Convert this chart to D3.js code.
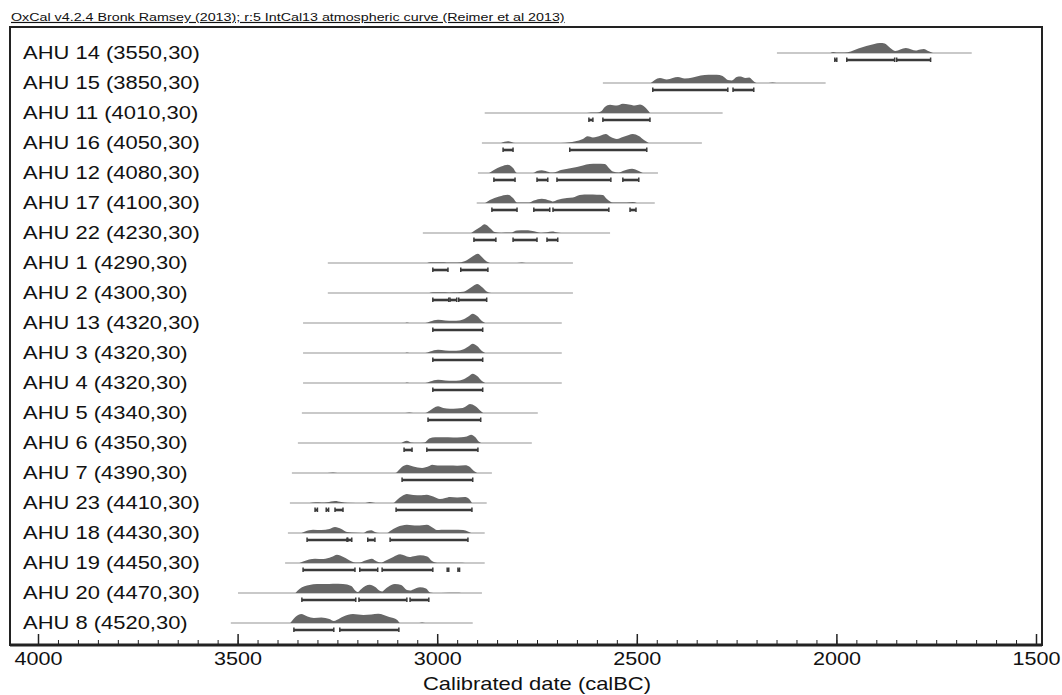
<!DOCTYPE html>
<html>
<head>
<meta charset="utf-8">
<script src="https://cdn.jsdelivr.net/npm/d3@7"></script>
<style>
  body { margin: 0; background: #fff; }
  text { font-family: "Liberation Sans", Arial, sans-serif; fill: #111; }
</style>
</head>
<body>
<svg id="chart"></svg>
<script>
// header and axis text
const header = 'OxCal v4.2.4 Bronk Ramsey (2013); r:5 IntCal13 atmospheric curve (Reimer et al 2013)'
const xTitle = 'Calibrated date (calBC)'
const majorTicks = [4000, 3500, 3000, 2500, 2000, 1500]

// samples, top to bottom
const labels = [
  'AHU 14 (3550,30)', 'AHU 15 (3850,30)', 'AHU 11 (4010,30)', 'AHU 16 (4050,30)',
  'AHU 12 (4080,30)', 'AHU 17 (4100,30)', 'AHU 22 (4230,30)', 'AHU 1 (4290,30)',
  'AHU 2 (4300,30)', 'AHU 13 (4320,30)', 'AHU 3 (4320,30)', 'AHU 4 (4320,30)',
  'AHU 5 (4340,30)', 'AHU 6 (4350,30)', 'AHU 7 (4390,30)', 'AHU 23 (4410,30)',
  'AHU 18 (4430,30)', 'AHU 19 (4450,30)', 'AHU 20 (4470,30)', 'AHU 8 (4520,30)'
]

// light grey line: full extent of each calibrated curve (calBC)
const spans = [
  [2149, 1661], [2585, 2027], [2881, 2285], [2888, 2337], [2898, 2447],
  [2901, 2455], [3036, 2567], [3274, 2660], [3274, 2660], [3336, 2688],
  [3336, 2688], [3336, 2688], [3339, 2748], [3349, 2763], [3364, 2863],
  [3369, 2876], [3374, 2881], [3381, 2881], [3499, 2888], [3517, 2911]
]

// probability distributions [year calBC, density]
const densities = [
  [[2015,0],[2008,1],[2000,0.5],[1980,0.5],[1964,1.5],[1945,4.5],[1925,7],[1905,9],[1891,10],[1879,9.5],[1865,5],[1852,2],[1840,3.5],[1826,5],[1812,3.5],[1801,2.5],[1790,3.5],[1781,4],[1770,2],[1758,0]],
  [[2465,0],[2455,3],[2442,5],[2425,3.5],[2410,5],[2397,6],[2380,4.5],[2360,5.5],[2340,7.5],[2320,8.3],[2300,8.3],[2285,7],[2272,3],[2262,2.5],[2250,6],[2240,6.5],[2228,5],[2218,5.5],[2208,2],[2200,0],[2170,0],[2160,0.6],[2150,0]],
  [[2625,0],[2615,0.6],[2600,0.5],[2590,1.5],[2580,6],[2567,8.3],[2550,7.5],[2535,9.3],[2520,8.5],[2505,7.5],[2492,8.5],[2480,6],[2467,0]],
  [[2840,0],[2823,1.7],[2805,0],[2690,0],[2668,0.8],[2645,2.5],[2635,4],[2623,6.7],[2610,5.5],[2600,6.3],[2590,7.5],[2578,9],[2565,6],[2550,4],[2535,6],[2520,8],[2510,9],[2495,7],[2482,3],[2470,0]],
  [[2870,0],[2858,3],[2840,6.5],[2823,8.3],[2810,5],[2800,0],[2760,0],[2750,2],[2738,2.7],[2725,1.5],[2715,0.5],[2705,0.8],[2690,3],[2670,4.5],[2650,6],[2635,7.5],[2618,9],[2600,9.2],[2580,9],[2570,5],[2560,1.5],[2545,0.5],[2535,2],[2512,4.3],[2495,2],[2485,0]],
  [[2880,0],[2868,3],[2845,6.5],[2823,8.3],[2810,5],[2800,0.5],[2770,0.5],[2758,2.5],[2738,4.3],[2718,2.5],[2710,1.5],[2700,3],[2675,5],[2660,5.5],[2643,8],[2620,8.5],[2600,8.3],[2585,8],[2575,4],[2560,0.5],[2525,0.5],[2510,1],[2500,0]],
  [[2915,0],[2906,2.5],[2892,6],[2881,8.7],[2868,5],[2856,1],[2840,0.3],[2815,0.5],[2800,2.5],[2780,2.7],[2765,2.3],[2750,1],[2740,0.3],[2725,0.8],[2712,1.5],[2698,0.5],[2690,0]],
  [[3025,0],[3018,0.7],[2990,0.8],[2976,0.6],[2960,0.4],[2940,0.8],[2923,3.5],[2910,7],[2898,9.3],[2888,6],[2876,1.5],[2865,0],[2800,0],[2788,0.5],[2778,0]],
  [[3020,0],[3011,0.7],[2990,0.7],[2970,0.6],[2950,0.7],[2935,1.2],[2923,3.5],[2910,7],[2900,9],[2888,6],[2876,1.5],[2865,0]],
  [[3080,0],[3076,0.5],[3070,0],[3030,0],[3018,1.5],[2998,3.3],[2980,2.5],[2960,2.3],[2945,2.5],[2930,4.5],[2920,7],[2911,9.3],[2900,7],[2888,2],[2880,0]],
  [[3080,0],[3076,0.5],[3070,0],[3030,0],[3018,1.5],[2998,3.2],[2980,2.5],[2960,2.3],[2945,2.5],[2930,4.5],[2920,7],[2911,9.2],[2900,7],[2888,2],[2880,0]],
  [[3080,0],[3076,0.5],[3070,0],[3030,0],[3018,1.5],[2998,3.2],[2980,2.5],[2960,2.3],[2945,2.5],[2930,4.5],[2920,7],[2911,9.2],[2900,7],[2888,2],[2880,0]],
  [[3080,0],[3070,0.5],[3060,0],[3030,0],[3020,2],[2998,6.7],[2985,5],[2968,4.3],[2950,4.5],[2936,5],[2925,7.5],[2918,9],[2905,7],[2891,2],[2885,0]],
  [[3090,0],[3076,2.3],[3065,0.5],[3050,0.3],[3032,0.5],[3020,4.5],[3005,5.7],[2985,5.7],[2960,5.5],[2940,5.7],[2926,6.5],[2915,8.3],[2905,6],[2896,1.5],[2890,0]],
  [[3275,0],[3261,0.5],[3250,0],[3105,0],[3096,3],[3085,7],[3076,8.3],[3060,6.5],[3038,5],[3020,7],[3013,8.3],[2995,7.5],[2970,7.5],[2950,7.3],[2930,7.8],[2918,6],[2908,2],[2900,0]],
  [[3320,0],[3304,0.7],[3290,0.5],[3276,0.8],[3256,2],[3240,1],[3225,0.3],[3180,0],[3169,1],[3155,0],[3110,0],[3101,3],[3088,7],[3076,9],[3060,8],[3040,7.8],[3026,8.3],[3010,6.5],[2993,4],[2980,5],[2968,6],[2950,5.5],[2931,6],[2920,4],[2913,0]],
  [[3340,0],[3331,1.5],[3311,3.3],[3290,3],[3270,4],[3256,6],[3240,4],[3226,1],[3215,0.5],[3185,0],[3176,2],[3165,2.7],[3156,1],[3145,0],[3125,0],[3118,2],[3100,6],[3076,8.3],[3050,7.5],[3026,8.3],[3010,5],[3001,3],[2990,3.3],[2960,3.3],[2935,3],[2923,1.5],[2915,0]],
  [[3345,0],[3336,1.5],[3306,4.3],[3285,4],[3265,6],[3251,8.3],[3235,6],[3214,1.5],[3205,0.5],[3195,0.5],[3180,2.5],[3164,4.3],[3151,1.5],[3140,0.5],[3131,2],[3110,6],[3093,8.7],[3070,6],[3055,7],[3043,7.7],[3025,6.5],[3013,2],[3000,0.3],[2970,0.3],[2945,0.3],[2930,0]],
  [[3355,0],[3345,4],[3320,8],[3301,9],[3280,9],[3261,9.3],[3236,9],[3215,7],[3204,2],[3199,1],[3190,4],[3180,7],[3169,8.3],[3155,6],[3143,2],[3138,1.5],[3130,4],[3115,8],[3106,9],[3090,8],[3076,3],[3068,2.5],[3060,3.5],[3043,5.7],[3028,4.5],[3018,0.5],[3010,0],[2970,0.3],[2950,0.3],[2940,0]],
  [[3368,0],[3360,4],[3341,9],[3325,6.5],[3309,5],[3290,5.5],[3270,4],[3259,2],[3252,3],[3235,6.5],[3211,9],[3185,8],[3165,8.5],[3148,9.3],[3120,6],[3100,3],[3093,0],[3045,0],[3038,0.6],[3030,0]]
]

// highest-probability ranges drawn as dark bars under each curve
const hpdRanges = [
  [[2004,1999],[1974,1854],[1849,1764]],
  [[2460,2272],[2259,2207]],
  [[2620,2610],[2585,2467]],
  [[2835,2810],[2668,2475]],
  [[2858,2805],[2750,2723],[2700,2565],[2535,2495]],
  [[2863,2800],[2758,2718],[2710,2570],[2517,2502]],
  [[2908,2853],[2810,2750],[2725,2698]],
  [[3011,2973],[2941,2873]],
  [[3011,2971],[2968,2951],[2946,2876]],
  [[3011,2886]],
  [[3011,2886]],
  [[3011,2886]],
  [[3023,2891]],
  [[3083,3063],[3026,2898]],
  [[3088,2911]],
  [[3306,3300],[3278,3272],[3256,3236],[3103,2913]],
  [[3326,3226],[3224,3214],[3174,3156],[3118,2923]],
  [[3336,3206],[3194,3149],[3138,3011],[2975,2971],[2948,2944]],
  [[3339,3204],[3196,3076],[3068,3021]],
  [[3359,3259],[3244,3096]]
]

const W = 1062, H = 695
const frame = { left: 10, right: 1042, top: 27, bottom: 645 }
const stretch = 1.22

const svg = d3.select('#chart').attr('width', W).attr('height', H)

const x = d3.scaleLinear().domain([4000, 1500]).range([38, 1036])
const y = d3.scalePoint().domain(labels).range([53, 623])
const h = d3.scaleLinear().domain([0, 10]).range([0, 10])

const area = d3.area()
  .x(d => x(d[0]))
  .y0(0)
  .y1(d => -h(d[1]))
  .curve(d3.curveMonotoneX)

// header
svg.append('text')
  .attr('transform', `translate(11,21) scale(${stretch},1)`)
  .attr('font-size', 11.7)
  .style('text-decoration', 'underline')
  .text(header)

// frame
svg.append('rect')
  .attr('x', frame.left).attr('y', frame.top)
  .attr('width', frame.right - frame.left).attr('height', frame.bottom - frame.top)
  .attr('fill', 'none').attr('stroke', '#222').attr('stroke-width', 2)

// rows
labels.forEach((lab, i) => {
  let g = svg.append('g').attr('transform', `translate(0,${y(lab)})`)

  g.append('text')
    .attr('transform', `translate(23,0) scale(${stretch},1)`)
    .attr('font-size', 18)
    .attr('dy', '0.36em')
    .text(lab)

  g.append('line')
    .attr('x1', x(spans[i][0])).attr('x2', x(spans[i][1]))
    .attr('stroke', '#c9c9c9').attr('stroke-width', 2)

  g.append('path')
    .datum(densities[i])
    .attr('d', area)
    .attr('fill', '#676767')

  let bars = g.selectAll('.bar').data(hpdRanges[i]).join('g').attr('class', 'bar')
  bars.append('line')
    .attr('x1', d => x(d[0])).attr('x2', d => x(d[1]))
    .attr('y1', 7).attr('y2', 7)
    .attr('stroke', '#3a3a3a').attr('stroke-width', 2.6)
  bars.selectAll('.cap').data(d => d).join('line').attr('class', 'cap')
    .attr('x1', d => x(d)).attr('x2', d => x(d))
    .attr('y1', 4.5).attr('y2', 9)
    .attr('stroke', '#3a3a3a').attr('stroke-width', 1.5)
})

// axis along the bottom of the frame, ticks pointing up
let minor = svg.append('g').attr('transform', `translate(0,${frame.bottom})`)
  .call(d3.axisBottom(x).tickValues(d3.range(4000, 1499, -50)).tickSize(-5).tickFormat(''))
minor.select('.domain').remove()
minor.selectAll('line').attr('stroke', '#222')

let axis = svg.append('g').attr('transform', `translate(0,${frame.bottom})`)
  .call(d3.axisBottom(x).tickValues(majorTicks).tickSizeInner(-11).tickSizeOuter(0).tickPadding(7).tickFormat(d3.format('d')))
axis.select('.domain').remove()
axis.selectAll('line').attr('stroke', '#222').attr('stroke-width', 1.5)
axis.selectAll('text')
  .attr('font-size', 18)
  .attr('font-family', '"Liberation Sans", Arial, sans-serif')
  .attr('transform', 'scale(1.2,1)')

svg.append('line')
  .attr('x1', frame.left).attr('x2', frame.right)
  .attr('y1', frame.bottom).attr('y2', frame.bottom)
  .attr('stroke', '#222').attr('stroke-width', 3)

svg.append('text')
  .attr('transform', `translate(${x(2750)},690) scale(${stretch},1)`)
  .attr('text-anchor', 'middle')
  .attr('font-size', 18)
  .text(xTitle)
</script>
</body>
</html>
